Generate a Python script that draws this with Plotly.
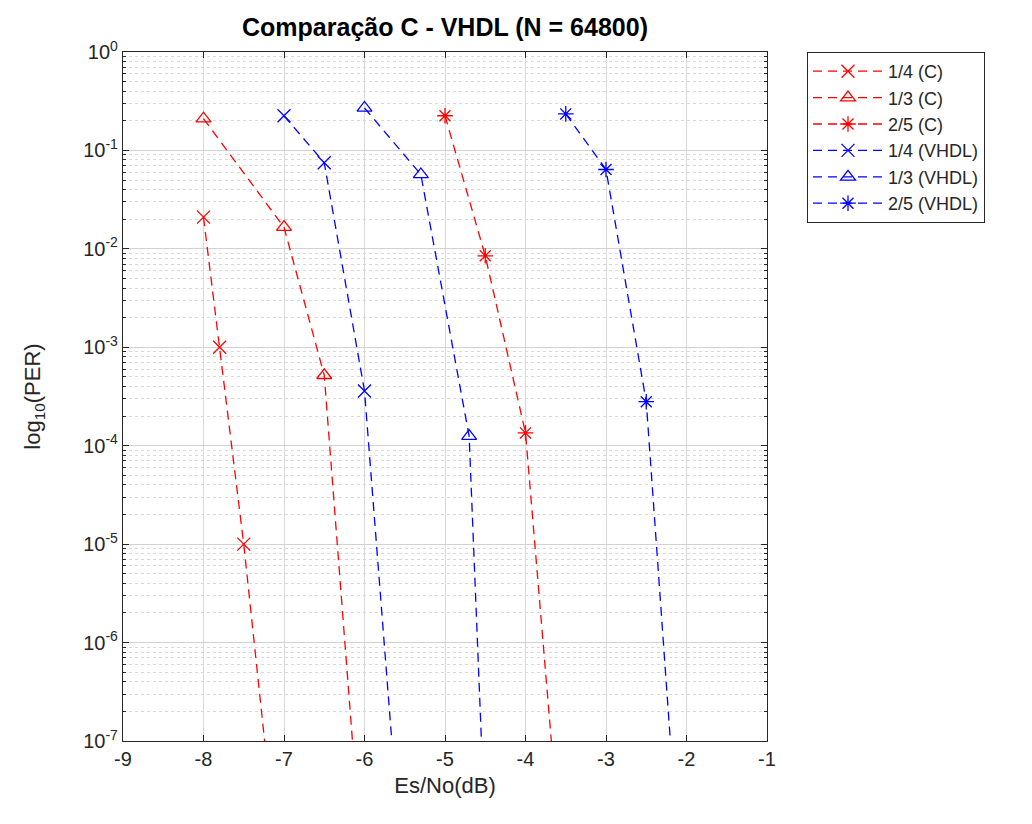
import plotly.graph_objects as go

# ---- data ----
esno_14_c = [-8.0, -7.8, -7.5, -7.0]
per_14_c = [2.1e-2, 1.0e-3, 1.0e-5, 1.4e-9]

esno_13_c = [-8.0, -7.0, -6.5, -6.0]
per_13_c = [2.1e-1, 1.66e-2, 5.2e-4, 2.6e-9]

esno_25_c = [-5.0, -4.5, -4.0, -3.5]
per_25_c = [2.25e-1, 8.5e-3, 1.35e-4, 1.8e-9]

esno_14_v = [-7.0, -6.5, -6.0, -5.5]
per_14_v = [2.25e-1, 7.5e-2, 3.6e-4, 2.1e-9]

esno_13_v = [-6.0, -5.3, -4.7, -4.5]
per_13_v = [2.7e-1, 5.7e-2, 1.25e-4, 1.1e-8]

esno_25_v = [-3.5, -3.0, -2.5, -2.0]
per_25_v = [2.35e-1, 6.4e-2, 2.8e-4, 5e-10]

series_names = ["1/4 (C)", "1/3 (C)", "2/5 (C)", "1/4 (VHDL)", "1/3 (VHDL)", "2/5 (VHDL)"]
series_x = [esno_14_c, esno_13_c, esno_25_c, esno_14_v, esno_13_v, esno_25_v]
series_y = [per_14_c, per_13_c, per_25_c, per_14_v, per_13_v, per_25_v]

x_ticks = [-9, -8, -7, -6, -5, -4, -3, -2, -1]
y_exponents = [0, -1, -2, -3, -4, -5, -6, -7]

# ---- styles ----
colors = ["#ff0000", "#ff0000", "#ff0000", "#0000ff", "#0000ff", "#0000ff"]
symbols = ["x-thin-open", "triangle-up-open", "asterisk-open",
           "x-thin-open", "triangle-up-open", "asterisk-open"]

fig = go.Figure()
for name, xs, ys, c, s in zip(series_names, series_x, series_y, colors, symbols):
    fig.add_trace(go.Scatter(
        x=xs, y=ys, name=name, mode="lines+markers",
        line=dict(color=c, width=1.3, dash="9px,6px"),
        marker=dict(symbol=s, size=13, color=c, line=dict(color=c, width=1.3)),
    ))

font_family = "Liberation Sans, Arial, sans-serif"
axis_color = "#262626"

y_tickvals = [10.0 ** e for e in y_exponents]
y_ticktext = [f"10<sup>{e}</sup>" for e in y_exponents]
y_minor = [k * 10.0 ** e for e in range(-7, 0) for k in range(2, 10)]

fig.update_layout(
    width=1032, height=824,
    margin=dict(l=123, r=265, t=52, b=83),
    paper_bgcolor="white", plot_bgcolor="white",
    font=dict(family=font_family, size=20, color=axis_color),
    title=dict(text="<b>Comparação C - VHDL (N = 64800)</b>",
               x=(123 + 767) / 2 / 1032, xanchor="center",
               y=1 - 27 / 824, yanchor="middle",
               font=dict(size=25, color="black", family=font_family)),
    legend=dict(x=(807 - 123) / 644, xanchor="left", y=1, yanchor="top",
                bordercolor="#262626", borderwidth=1, bgcolor="white",
                font=dict(size=18, color="#262626", family=font_family),
                tracegroupgap=0, itemwidth=70),
    showlegend=True,
)

fig.update_xaxes(
    range=[-9, -1], tickvals=x_ticks, ticktext=[str(v) for v in x_ticks],
    showgrid=True, gridcolor="#d9d9d9", gridwidth=1,
    showline=True, linecolor=axis_color, linewidth=1.3, mirror="ticks",
    ticks="inside", ticklen=6, tickcolor=axis_color,
    tickfont=dict(size=20), zeroline=False,
    title=dict(text="Es/No(dB)", font=dict(size=22), standoff=8),
)
fig.update_yaxes(
    type="log", range=[-7, 0], tickvals=y_tickvals, ticktext=y_ticktext,
    showgrid=True, gridcolor="#d2d2d2", gridwidth=1,
    showline=True, linecolor=axis_color, linewidth=1.3, mirror="ticks",
    ticks="inside", ticklen=6, tickcolor=axis_color,
    tickfont=dict(size=20), zeroline=False,
    minor=dict(tickvals=y_minor, ticks="inside", ticklen=3, tickcolor=axis_color,
               showgrid=True, gridcolor="#d9d9d9", griddash="dot", gridwidth=1),
    title=dict(text="log<sub>10</sub>(PER)", font=dict(size=22), standoff=36),
)

fig.write_html("out.html")
